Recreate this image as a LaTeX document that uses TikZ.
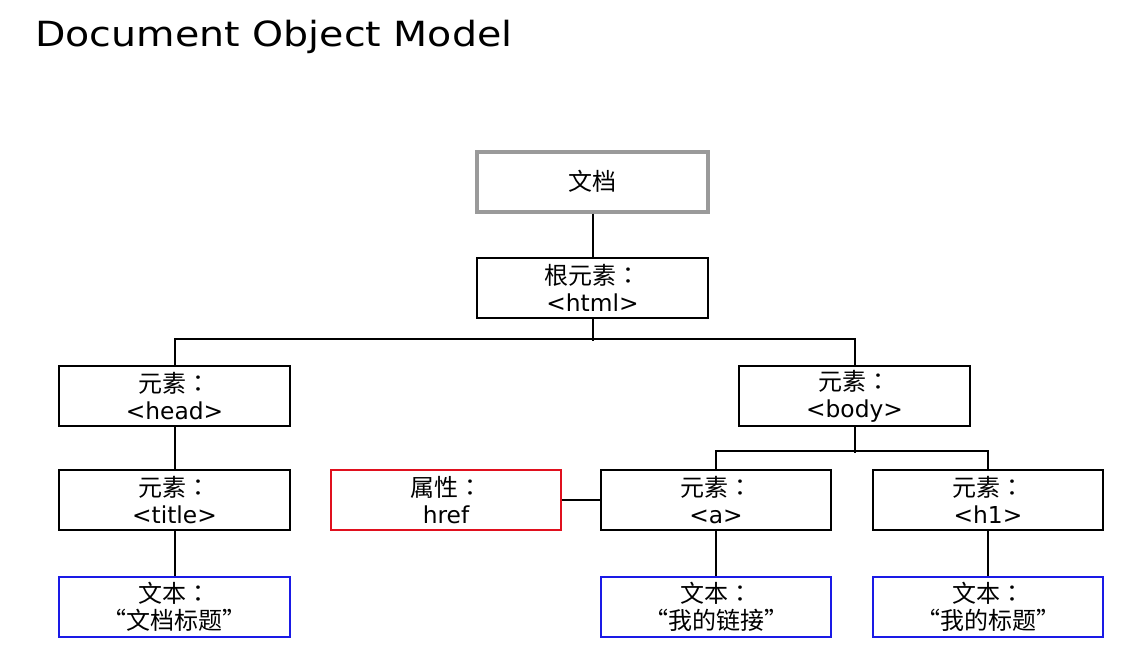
\documentclass[tikz,border=0pt]{standalone}
\usepackage{fontspec}
\setmainfont{DejaVu Sans}
\newfontfamily\cjk{Noto Sans CJK TC}
\newfontfamily\titlefont[FakeStretch=1.14]{DejaVu Sans}
\definecolor{docgray}{HTML}{9A9A9A}
\definecolor{attrred}{HTML}{E0101E}
\definecolor{textblue}{HTML}{1A1AE6}
\newcommand{\zh}[1]{{\cjk\fontsize{18}{20}\selectfont #1}}

\begin{document}
\begin{tikzpicture}[x=0.75pt,y=-0.75pt]
	\useasboundingbox (0,0) rectangle (1147,668);
	\node [anchor=base west, inner sep=0pt,
		font=\titlefont\fontsize{26}{30}\selectfont] (heading) at (35,46) {Document Object Model};
	\begin{scope}[every node/.style = {rectangle, draw, line width=1.5pt,
			minimum width=173pt, minimum height=45pt, align=center,
			font=\fontsize{17.5}{20}\selectfont}]
		\node [draw=docgray, line width=3pt] (doc) at (592.5,181.5) {\zh{文档}};
		\node (html) at (592.5,288) {\zh{根元素：}\\<html>};
		\node (head) at (174.5,396) {\zh{元素：}\\<head>};
		\node (body) at (854.5,396) {\zh{元素：}\\<body>};
		\node (title) at (174.5,500) {\zh{元素：}\\<title>};
		\node [draw=attrred] (href) at (446,500) {\zh{属性：}\\href};
		\node (a) at (716,500) {\zh{元素：}\\<a>};
		\node (hone) at (988,500) {\zh{元素：}\\<h1>};
		\node [draw=textblue] (txttitle) at (174.5,607) {\zh{文本：}\\\zh{“文档标题”}};
		\node [draw=textblue] (txtlink) at (716,607) {\zh{文本：}\\\zh{“我的链接”}};
		\node [draw=textblue] (txthone) at (988,607) {\zh{文本：}\\\zh{“我的标题”}};
	\end{scope}
	\begin{scope}[every edge/.style={draw=black, line width=1.5pt}]
		\path (doc) edge (html);
		\path (head) edge (title);
		\path (title) edge (txttitle);
		\path (href) edge (a);
		\path (a) edge (txtlink);
		\path (hone) edge (txthone);
	\end{scope}
	\begin{scope}[line width=1.5pt]
		\draw (html.south) -- ++(0,22);
		\draw (head.north) -- ++(0,-26) -| (body.north);
		\draw (body.south) -- ++(0,26);
		\draw (a.north) -- ++(0,-18) -| (hone.north);
	\end{scope}
\end{tikzpicture}
\end{document}
